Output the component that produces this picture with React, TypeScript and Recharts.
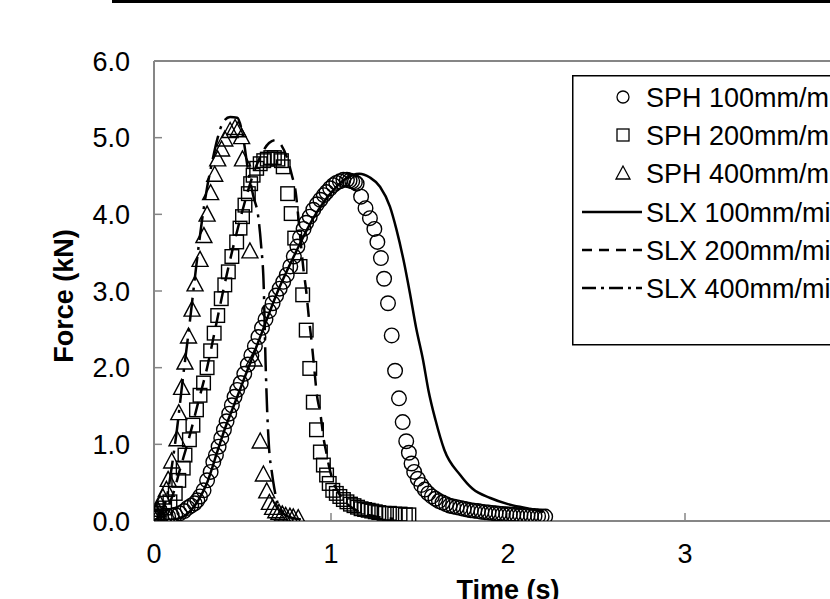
import React from 'react';
import { ComposedChart, Line, Scatter, XAxis, YAxis, ReferenceLine, Legend, Label } from 'recharts';

// ---------- data (time s, force kN) ----------
const sph100: [number, number][] = [
  [0.00,0.04],[0.02,0.04],[0.04,0.05],[0.06,0.05],[0.08,0.06],[0.10,0.07],[0.12,0.08],[0.145,0.10],[0.17,0.13],[0.19,0.17],
  [0.21,0.20],[0.23,0.23],[0.245,0.27],[0.26,0.32],[0.28,0.40],[0.30,0.53],[0.32,0.64],[0.335,0.77],[0.35,0.86],[0.365,0.97],
  [0.38,1.08],[0.395,1.19],[0.41,1.30],[0.425,1.40],[0.44,1.51],[0.455,1.62],[0.47,1.71],[0.49,1.80],[0.51,1.92],[0.53,2.04],
  [0.55,2.16],[0.57,2.28],[0.59,2.40],[0.61,2.52],[0.63,2.63],[0.65,2.74],[0.67,2.84],[0.69,2.94],[0.71,3.03],[0.73,3.12],
  [0.75,3.21],[0.77,3.32],[0.79,3.45],[0.81,3.58],[0.825,3.70],[0.845,3.81],[0.86,3.89],[0.88,3.97],[0.90,4.06],[0.92,4.13],
  [0.94,4.19],[0.96,4.25],[0.975,4.29],[0.995,4.34],[1.013,4.38],[1.03,4.41],[1.05,4.43],[1.07,4.45],[1.09,4.45],[1.105,4.44],
  [1.12,4.43],[1.135,4.42],[1.145,4.40],[1.17,4.23],[1.195,4.08],[1.22,3.95],[1.245,3.81],[1.262,3.64],[1.282,3.43],[1.30,3.16],
  [1.322,2.84],[1.343,2.42],[1.362,1.96],[1.384,1.60],[1.405,1.29],[1.425,1.04],[1.44,0.89],[1.455,0.75],[1.47,0.64],[1.49,0.55],
  [1.51,0.47],[1.53,0.41],[1.55,0.36],[1.57,0.32],[1.59,0.29],[1.61,0.26],[1.63,0.24],[1.65,0.22],[1.67,0.20],[1.69,0.19],
  [1.71,0.18],[1.73,0.17],[1.75,0.16],[1.77,0.15],[1.79,0.14],[1.81,0.135],[1.83,0.13],[1.85,0.12],[1.87,0.115],[1.89,0.11],
  [1.91,0.105],[1.93,0.10],[1.95,0.095],[1.97,0.09],[1.99,0.088],[2.01,0.085],[2.03,0.08],[2.05,0.078],[2.07,0.075],[2.09,0.072],
  [2.11,0.07],[2.13,0.068],[2.15,0.065],[2.17,0.063],[2.19,0.06],[2.21,0.058],
];

const sph200: [number, number][] = [
  [0.00,0.06],[0.015,0.08],[0.03,0.10],[0.06,0.17],[0.09,0.25],[0.12,0.36],[0.14,0.53],[0.165,0.69],[0.175,0.86],[0.20,1.06],
  [0.22,1.25],[0.24,1.45],[0.26,1.64],[0.28,1.80],[0.30,2.00],[0.32,2.22],[0.34,2.45],[0.36,2.68],[0.38,2.90],[0.40,3.08],
  [0.42,3.25],[0.44,3.45],[0.467,3.64],[0.486,3.82],[0.50,3.97],[0.514,4.12],[0.533,4.27],[0.546,4.40],[0.56,4.51],[0.58,4.60],
  [0.60,4.66],[0.62,4.70],[0.64,4.72],[0.66,4.74],[0.68,4.74],[0.70,4.72],[0.72,4.70],[0.73,4.62],[0.755,4.27],[0.775,4.01],
  [0.795,3.69],[0.825,3.32],[0.84,2.95],[0.86,2.49],[0.88,1.99],[0.90,1.55],[0.918,1.19],[0.94,0.90],[0.957,0.73],[0.975,0.60],
  [0.99,0.49],[1.01,0.40],[1.03,0.36],[1.05,0.32],[1.07,0.28],[1.09,0.25],[1.11,0.22],[1.13,0.20],[1.15,0.18],[1.17,0.16],
  [1.19,0.15],[1.21,0.14],[1.23,0.13],[1.25,0.12],[1.27,0.11],[1.30,0.10],[1.33,0.10],[1.36,0.09],[1.39,0.09],[1.42,0.08],
  [1.44,0.08],
];

const sph400: [number, number][] = [
  [0.00,0.04],[0.01,0.10],[0.02,0.14],[0.035,0.21],[0.05,0.30],[0.07,0.40],[0.08,0.53],[0.10,0.77],[0.13,1.06],[0.14,1.40],
  [0.156,1.73],[0.175,2.06],[0.195,2.40],[0.215,2.75],[0.232,3.08],[0.26,3.40],[0.282,3.71],[0.30,3.99],[0.32,4.27],[0.343,4.51],
  [0.36,4.71],[0.382,4.84],[0.40,4.97],[0.43,5.08],[0.458,5.12],[0.475,5.09],[0.495,5.00],[0.50,4.71],[0.542,3.51],[0.565,2.10],
  [0.60,1.03],[0.618,0.60],[0.637,0.38],[0.652,0.23],[0.67,0.165],[0.688,0.12],[0.706,0.10],[0.725,0.08],[0.744,0.06],[0.768,0.05],
  [0.787,0.04],[0.815,0.03],
];

const slx100: [number, number][] = [
  [0,0],[0.1,0.02],[0.15,0.04],[0.2,0.12],[0.25,0.27],[0.3,0.5],[0.36,0.92],[0.4,1.2],[0.45,1.5],[0.5,1.8],
  [0.55,2.1],[0.6,2.4],[0.7,3.0],[0.8,3.5],[0.9,3.95],[1.0,4.28],[1.08,4.46],[1.16,4.53],[1.22,4.48],[1.277,4.36],
  [1.333,4.10],[1.37,3.80],[1.41,3.40],[1.446,2.97],[1.48,2.53],[1.52,2.10],[1.55,1.71],[1.59,1.32],[1.64,0.93],[1.73,0.6],
  [1.8,0.42],[1.9,0.3],[2.0,0.22],[2.1,0.17],[2.2,0.12],
];

const slx200: [number, number][] = [
  [0,0],[0.05,0.1],[0.1,0.3],[0.15,0.7],[0.2,1.1],[0.25,1.55],[0.3,2.0],[0.35,2.55],[0.4,3.1],[0.45,3.6],
  [0.5,4.05],[0.55,4.45],[0.6,4.75],[0.65,4.93],[0.69,4.97],[0.72,4.9],[0.75,4.75],[0.78,4.5],[0.8,4.3],[0.82,3.85],
  [0.845,3.27],[0.86,3.0],[0.875,2.65],[0.89,2.35],[0.905,2.0],[0.92,1.65],[0.94,1.4],[0.96,1.05],[0.975,0.88],[0.99,0.7],
  [1.01,0.53],[1.04,0.38],[1.08,0.25],[1.15,0.13],[1.25,0.06],[1.35,0.03],
];

const slx400: [number, number][] = [
  [0,0],[0.04,0.1],[0.08,0.4],[0.1,0.7],[0.13,1.2],[0.16,1.8],[0.2,2.55],[0.24,3.35],[0.27,3.9],[0.3,4.35],
  [0.33,4.7],[0.36,5.0],[0.39,5.2],[0.43,5.27],[0.47,5.26],[0.5,5.05],[0.53,4.6],[0.56,4.25],[0.59,3.95],[0.605,3.6],
  [0.62,3.05],[0.63,2.1],[0.64,1.4],[0.65,0.95],[0.665,0.65],[0.68,0.42],[0.7,0.22],[0.73,0.1],[0.78,0.04],[0.83,0.02],
];

const xTicks = [0, 1, 2, 3, 4];
const yTicks = [0, 1, 2, 3, 4, 5, 6];
const seriesNames = ['SPH 100mm/min', 'SPH 200mm/min', 'SPH 400mm/min', 'SLX 100mm/min', 'SLX 200mm/min', 'SLX 400mm/min'];

const toRows = (arr: [number, number][]) => arr.map(([t, f]) => ({ t, f }));

// ---------- styles ----------
const W = 900;
const H = 640;
const AXIS = '#868686';
const FONT = '"Liberation Sans", Arial, sans-serif';
const FS = 27;

const circleShape = (p: any) => (
  <circle cx={p.cx} cy={p.cy} r={7.3} fill="none" stroke="#000" strokeWidth={1.4} />
);
const squareShape = (p: any) => (
  <rect x={p.cx - 6.8} y={p.cy - 6.8} width={13.6} height={13.6} fill="none" stroke="#000" strokeWidth={1.4} />
);
const triShape = (p: any) => (
  <polygon
    points={`${p.cx},${p.cy - 9} ${p.cx - 8},${p.cy + 6} ${p.cx + 8},${p.cy + 6}`}
    fill="none"
    stroke="#000"
    strokeWidth={1.4}
  />
);

const LegendBox = () => {
  const rows = [22, 60, 98, 137, 175, 213];
  const mx = 51;
  return (
    <svg width={300} height={272} style={{ display: 'block', overflow: 'visible' }}>
      <rect x={0.75} y={0.75} width={296} height={269} fill="#fff" stroke="#000" strokeWidth={1.5} />
      <circle cx={mx} cy={rows[0]} r={6} fill="none" stroke="#000" strokeWidth={1.3} />
      <rect x={mx - 6} y={rows[1] - 6} width={12} height={12} fill="none" stroke="#000" strokeWidth={1.3} />
      <polygon points={`${mx},${rows[2] - 7} ${mx - 7},${rows[2] + 6} ${mx + 7},${rows[2] + 6}`} fill="none" stroke="#000" strokeWidth={1.3} />
      <line x1={10} x2={70} y1={rows[3]} y2={rows[3]} stroke="#000" strokeWidth={2.5} />
      <line x1={10} x2={70} y1={rows[4]} y2={rows[4]} stroke="#000" strokeWidth={2.5} strokeDasharray="10 7" />
      <line x1={10} x2={70} y1={rows[5]} y2={rows[5]} stroke="#000" strokeWidth={2.5} strokeDasharray="14 5 3 5" />
      {seriesNames.map((n, i) => (
        <text key={n} x={74} y={rows[i] + 9.5} fontSize={FS} fontFamily={FONT} fill="#000">
          {n}
        </text>
      ))}
    </svg>
  );
};

const YTitle = () => (
  <text
    x={73}
    y={296}
    transform="rotate(-90 73 296)"
    textAnchor="middle"
    fontSize={FS}
    fontWeight="bold"
    fontFamily={FONT}
    fill="#000"
  >
    Force (kN)
  </text>
);

export default function App() {
  return (
    <div style={{ position: 'absolute', left: 0, top: 0, width: 830, height: 599, overflow: 'hidden', background: '#fff' }}>
      <div style={{ position: 'absolute', left: 0, top: 0 }}>
        <ComposedChart width={W} height={H} margin={{ top: 61, right: 38, bottom: 39, left: 54 }}>
          <XAxis
            type="number"
            dataKey="t"
            domain={[0, 4]}
            ticks={xTicks}
            interval={0}
            allowDataOverflow
            height={80}
            tickSize={-8}
            tickMargin={31}
            axisLine={{ stroke: AXIS, strokeWidth: 2 }}
            tickLine={{ stroke: AXIS, strokeWidth: 1.5 }}
            tick={{ fill: '#000', fontSize: FS, fontFamily: FONT }}
          >
            <Label
              value="Time (s)"
              position="insideBottom"
              offset={2}
              style={{ fontSize: FS, fontWeight: 'bold', fill: '#000', fontFamily: FONT }}
            />
          </XAxis>
          <YAxis
            type="number"
            dataKey="f"
            domain={[0, 6]}
            ticks={yTicks}
            interval={0}
            allowDataOverflow
            width={100}
            tickSize={-8}
            tickMargin={32}
            tickFormatter={(v: number) => v.toFixed(1)}
            axisLine={{ stroke: AXIS, strokeWidth: 2 }}
            tickLine={{ stroke: AXIS, strokeWidth: 1.5 }}
            tick={{ fill: '#000', fontSize: FS, fontFamily: FONT }}
          >
            <Label content={YTitle} />
          </YAxis>
          <ReferenceLine y={6} stroke={AXIS} strokeWidth={2} />
          <Scatter name={seriesNames[0]} data={toRows(sph100)} dataKey="f" shape={circleShape} isAnimationActive={false} />
          <Scatter name={seriesNames[1]} data={toRows(sph200)} dataKey="f" shape={squareShape} isAnimationActive={false} />
          <Scatter name={seriesNames[2]} data={toRows(sph400)} dataKey="f" shape={triShape} isAnimationActive={false} />
          <Line name={seriesNames[3]} data={toRows(slx100)} dataKey="f" type="monotone" stroke="#000" strokeWidth={2.5} dot={false} activeDot={false} isAnimationActive={false} />
          <Line name={seriesNames[4]} data={toRows(slx200)} dataKey="f" type="monotone" stroke="#000" strokeWidth={2.5} strokeDasharray="14 9" dot={false} activeDot={false} isAnimationActive={false} />
          <Line name={seriesNames[5]} data={toRows(slx400)} dataKey="f" type="monotone" stroke="#000" strokeWidth={2.5} strokeDasharray="24 7 3 7" dot={false} activeDot={false} isAnimationActive={false} />
          <Legend
            layout="horizontal"
            verticalAlign="middle"
            align="center"
            content={() => <LegendBox />}
            wrapperStyle={{ left: 572, top: 75, width: 300, height: 272, right: 'auto', bottom: 'auto' }}
          />
        </ComposedChart>
      </div>
      <div style={{ position: 'absolute', left: 112, top: 0, width: 718, height: 3, background: '#000' }} />
    </div>
  );
}
